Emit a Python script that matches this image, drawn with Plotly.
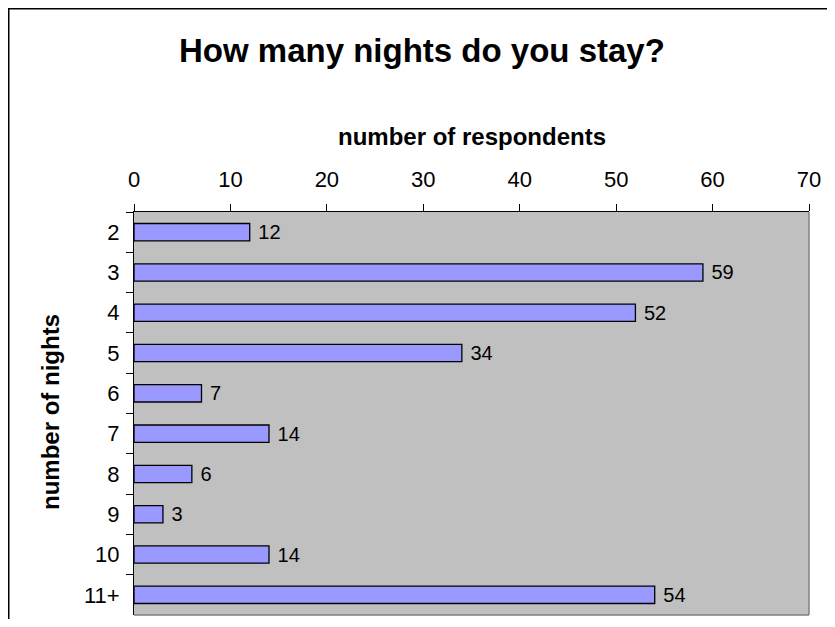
import plotly.graph_objects as go

categories = ["2", "3", "4", "5", "6", "7", "8", "9", "10", "11+"]
respondents = [12, 59, 52, 34, 7, 14, 6, 3, 14, 54]
x_ticks = [0, 10, 20, 30, 40, 50, 60, 70]

FONT = "Liberation Sans, Arial, sans-serif"
OFF = 8  # page body margin
W, H = 835 - 2 * OFF, 627 - 2 * OFF
PL, PR, PT, PB = 134, 809, 212, 615  # plot area in page pixels
L, T = PL - OFF, PT - OFF
R = W - (PR - OFF)
B = H - (PB - OFF)
pw, ph = PR - PL, PB - PT

def px_x(x):
    return (x - PL) / pw

def px_y(y):
    return (PB - y) / ph

fig = go.Figure(go.Bar(
    x=respondents, y=categories, orientation="h",
    marker=dict(color="#9999FF", line=dict(color="black", width=1.3)),
    width=0.43,
    text=["\u00a0" + str(v) for v in respondents], textposition="outside",
    constraintext="none",
    textfont=dict(family=FONT, size=20, color="black"),
    cliponaxis=False,
))

fig.update_layout(
    width=W, height=H,
    margin=dict(l=L, r=R, t=T, b=B, pad=0),
    paper_bgcolor="white", plot_bgcolor="#C0C0C0",
    showlegend=False,
    font=dict(family=FONT, color="black"),
    xaxis=dict(
        side="top", range=[0, 70], tickvals=x_ticks,
        ticks="outside", ticklen=7, tickcolor="black", tickwidth=1,
        showline=True, linecolor="black", linewidth=1,
        showgrid=False, zeroline=False,
        tickfont=dict(size=22, family=FONT, color="black"),
        ticklabelstandoff=8,
    ),
    yaxis=dict(
        autorange="reversed", type="category",
        ticks="outside", tickson="boundaries", ticklen=7, tickcolor="black",
        showline=True, linecolor="black", linewidth=1,
        showgrid=False, zeroline=False,
        tickfont=dict(size=22, family=FONT, color="black"),
        ticklabelstandoff=9,
    ),
    annotations=[
        dict(text="<b>How many nights do you stay?</b>", xref="paper", yref="paper",
             x=px_x(422), y=px_y(51), xanchor="center", yanchor="middle",
             showarrow=False, font=dict(size=33, family=FONT, color="black")),
        dict(text="<b>number of respondents</b>", xref="paper", yref="paper",
             x=px_x(471.5), y=px_y(137), xanchor="center", yanchor="middle",
             showarrow=False, font=dict(size=24, family=FONT, color="black")),
        dict(text="<b>number of nights</b>", xref="paper", yref="paper",
             x=px_x(50), y=px_y(412), xanchor="center", yanchor="middle",
             textangle=-90, showarrow=False, font=dict(size=24, family=FONT, color="black")),
    ],
    shapes=[
        dict(type="rect", xref="paper", yref="paper",
             x0=px_x(8.75), y0=px_y(700), x1=px_x(900), y1=px_y(8.75),
             line=dict(color="black", width=1.5), layer="above"),
        dict(type="line", xref="paper", yref="paper", x0=1, x1=1, y0=0, y1=1,
             line=dict(color="#808080", width=1.5)),
        dict(type="line", xref="paper", yref="paper", x0=0, x1=1, y0=0, y1=0,
             line=dict(color="#808080", width=1.5)),
    ],
)

fig.write_html("out.html")
